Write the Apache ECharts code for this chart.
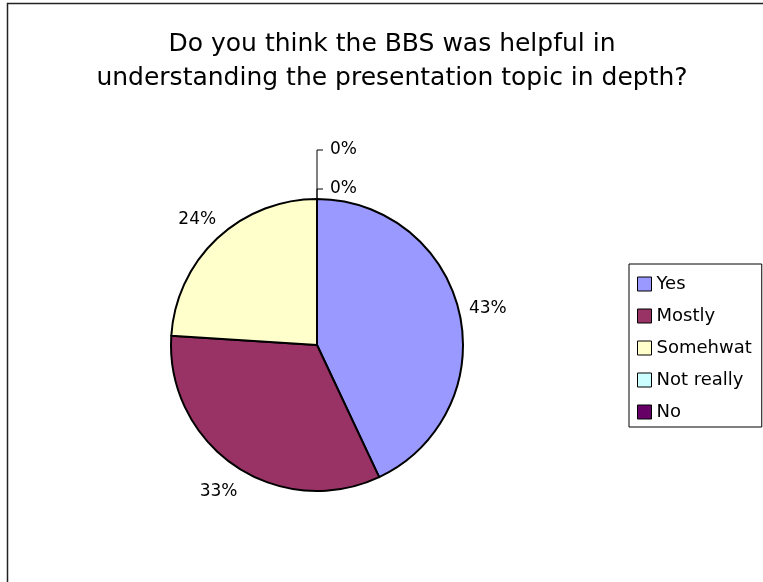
<!DOCTYPE html>
<html>
<head>
<meta charset="utf-8">
<script src="https://cdn.jsdelivr.net/npm/echarts@6/dist/echarts.min.js"></script>
<style>
html,body{margin:0;padding:0;background:#fff;}
#chart{width:763px;height:582px;}
</style>
</head>
<body>
<div id="chart"></div>
<script>
const titleLines = ['Do you think the BBS was helpful in', 'understanding the presentation topic in depth?'];
const categories = ['Yes', 'Mostly', 'Somehwat', 'Not really', 'No'];
const values = [43, 33, 24, 0, 0];
const colors = ['#9999FF', '#993366', '#FFFFCC', '#CCFFFF', '#660066'];

const CX = 317, CY = 345, R = 146;
const FONT = '"DejaVu Sans", sans-serif';

const chart = echarts.init(document.getElementById('chart'), null, {renderer: 'canvas'});

const total = values.reduce((a, b) => a + b, 0);
const data = categories.map((n, i) => ({
  name: n,
  value: values[i],
  labelLine: {show: values[i] === 0}
}));

chart.setOption({
  animation: false,
  backgroundColor: '#fff',
  color: colors,
  graphic: [{
    type: 'rect',
    shape: {x: 7.5, y: 3.5, width: 900, height: 800},
    style: {fill: 'none', stroke: '#222', lineWidth: 1.5},
    silent: true
  }],
  title: {
    text: titleLines.join('\n'),
    left: 392,
    top: 27,
    padding: 0,
    textAlign: 'center',
    textStyle: {fontFamily: FONT, fontSize: 25, fontWeight: 'normal', color: '#000', lineHeight: 34}
  },
  legend: {
    orient: 'vertical',
    left: 629,
    top: 264,
    padding: [11, 10, 6, 8],
    borderColor: '#000',
    borderWidth: 1,
    itemWidth: 14,
    itemHeight: 14,
    itemGap: 14,
    icon: 'rect',
    itemStyle: {borderColor: '#000', borderWidth: 1},
    textStyle: {fontFamily: FONT, fontSize: 18, color: '#000'},
    data: categories
  },
  series: [{
    type: 'pie',
    center: [CX, CY],
    radius: R,
    startAngle: 90,
    clockwise: true,
    avoidLabelOverlap: false,
    percentPrecision: 0,
    itemStyle: {borderColor: '#000', borderWidth: 2},
    emphasis: {disabled: true},
    label: {
      show: true,
      position: 'outside',
      formatter: '{d}%',
      fontFamily: FONT,
      fontSize: 17,
      color: '#000'
    },
    labelLine: {lineStyle: {color: '#000', width: 1}},
    labelLayout: function (p) {
      const i = p.dataIndex;
      let cum = 0;
      for (let k = 0; k < i; k++) cum += values[k];
      if (values[i] === 0) {
        const zeroIdx = values.slice(0, i).filter(v => v === 0).length;
        const topY = CY - R;
        const y = topY - 10 - zeroIdx * 39;
        return {
          x: CX + 13, y: y, align: 'left', verticalAlign: 'middle',
          labelLinePoints: [[CX, topY], [CX, y], [CX + 6, y]]
        };
      }
      const mid = (cum + values[i] / 2) / total * 2 * Math.PI;
      const d = R + 29;
      return {x: CX + d * Math.sin(mid), y: CY - d * Math.cos(mid) + 2, align: 'center', verticalAlign: 'middle'};
    },
    data: data
  }]
});
</script>
</body>
</html>
